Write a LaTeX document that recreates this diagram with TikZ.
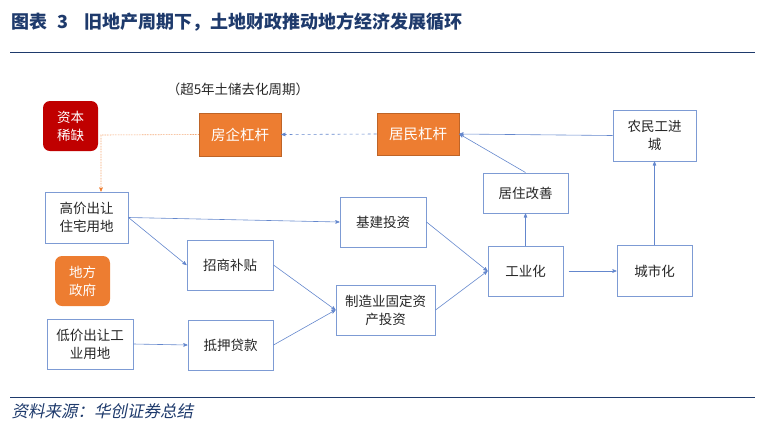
\documentclass[tikz,border=0pt]{standalone}
\usepackage{fontspec}
\setmainfont{Noto Sans CJK SC}
\newfontfamily\cjkit[FakeSlant=0.2]{Noto Sans CJK SC}
\usetikzlibrary{arrows}
\definecolor{hcblue}{RGB}{30,58,108}
\definecolor{lineblue}{RGB}{100,135,205}
\definecolor{boxblue}{RGB}{125,155,212}
\definecolor{orng}{RGB}{237,125,49}
\definecolor{dkred}{RGB}{192,0,0}

\begin{document}
\begin{tikzpicture}[x=1pt,y=-1pt,->,>=stealth',line width=0.6pt,draw=lineblue]
  \tikzstyle{blk}=[rectangle,draw=boxblue,fill=white,line width=1pt,align=center,
                   text=black!85,font=\fontsize{13.5}{18}\selectfont]
  \tikzstyle{hot}=[rectangle,draw=orng!80!black,fill=orng,line width=0.6pt,align=center,
                   text=white,font=\fontsize{14.5}{18}\selectfont]
  \tikzstyle{tag}=[rectangle,rounded corners=7pt,draw=none,align=center,
                   text=white,font=\fontsize{13.5}{18}\selectfont,minimum width=55pt,minimum height=50pt]

  \useasboundingbox (0,0) rectangle (771,429);

  % heading and rules
  \node[anchor=west,text=hcblue,font=\fontsize{18}{20}\selectfont\bfseries] (head) at (8,22)
    {图表\hspace{10pt}3\hspace{16pt}旧地产周期下，土地财政推动地方经济发展循环};
  \draw[-,hcblue,line width=1pt] (10,52) -- (755,52);
  \draw[-,hcblue,line width=1pt] (10,397) -- (755,397);
  \node[anchor=west,text=hcblue,font=\fontsize{16.5}{18}\cjkit] (src) at (8,411) {资料来源：华创证券总结};

  \node[font=\fontsize{13.5}{14}\selectfont,text=black!85] (note) at (238,89) {（超5年土储去化周期）};

  \node[tag,fill=dkred] (zb) at (70.5,126) {资本\\稀缺};
  \node[tag,fill=orng] (df) at (82.5,281) {地方\\政府};

  \node[hot,minimum width=82pt,minimum height=43pt] (fq) at (240,134.5) {房企杠杆};
  \node[hot,minimum width=82pt,minimum height=42pt] (jm) at (418,134)   {居民杠杆};

  \node[blk,minimum width=83pt,minimum height=51pt] (nm) at (654.5,135.5) {农民工进\\城};
  \node[blk,minimum width=83pt,minimum height=51pt] (gj) at (86.5,217.5)  {高价出让\\住宅用地};
  \node[blk,minimum width=86pt,minimum height=50pt] (jj) at (383,222)     {基建投资};
  \node[blk,minimum width=85pt,minimum height=40pt] (jz) at (525.5,193)   {居住改善};
  \node[blk,minimum width=86pt,minimum height=50pt] (zs) at (230,265)     {招商补贴};
  \node[blk,minimum width=75pt,minimum height=50pt] (gy) at (525.5,271)   {工业化};
  \node[blk,minimum width=75pt,minimum height=51pt] (cs) at (654.5,271)   {城市化};
  \node[blk,minimum width=99pt,minimum height=50pt] (zz) at (385.5,310)   {制造业固定资\\产投资};
  \node[blk,minimum width=86pt,minimum height=50pt] (dj) at (90,344)      {低价出让工\\业用地};
  \node[blk,minimum width=85pt,minimum height=50pt] (dy) at (230.5,345)   {抵押贷款};

  \coordinate (turn) at (101,135);

  \path (gj.east) edge (jj.west)
        (gj.east) edge (zs.west)
        (zs.east) edge (zz.west)
        (dy.east) edge (zz.west)
        (dj.east) edge (dy.west)
        (jj.east) edge (gy.west)
        (zz.east) edge (gy.west)
        (gy.north) edge (jz.south)
        (jz.north) edge (jm.east)
        (nm.west) edge (jm.east)
        (gy.east) edge[shorten <=5pt] (cs.west)
        (cs.north) edge (nm.south)
        (jm.west) edge[dashed] (fq.east);

  \draw[orng,densely dotted] (fq.west) -- (turn) -- (turn |- gj.north);

\end{tikzpicture}
\end{document}
